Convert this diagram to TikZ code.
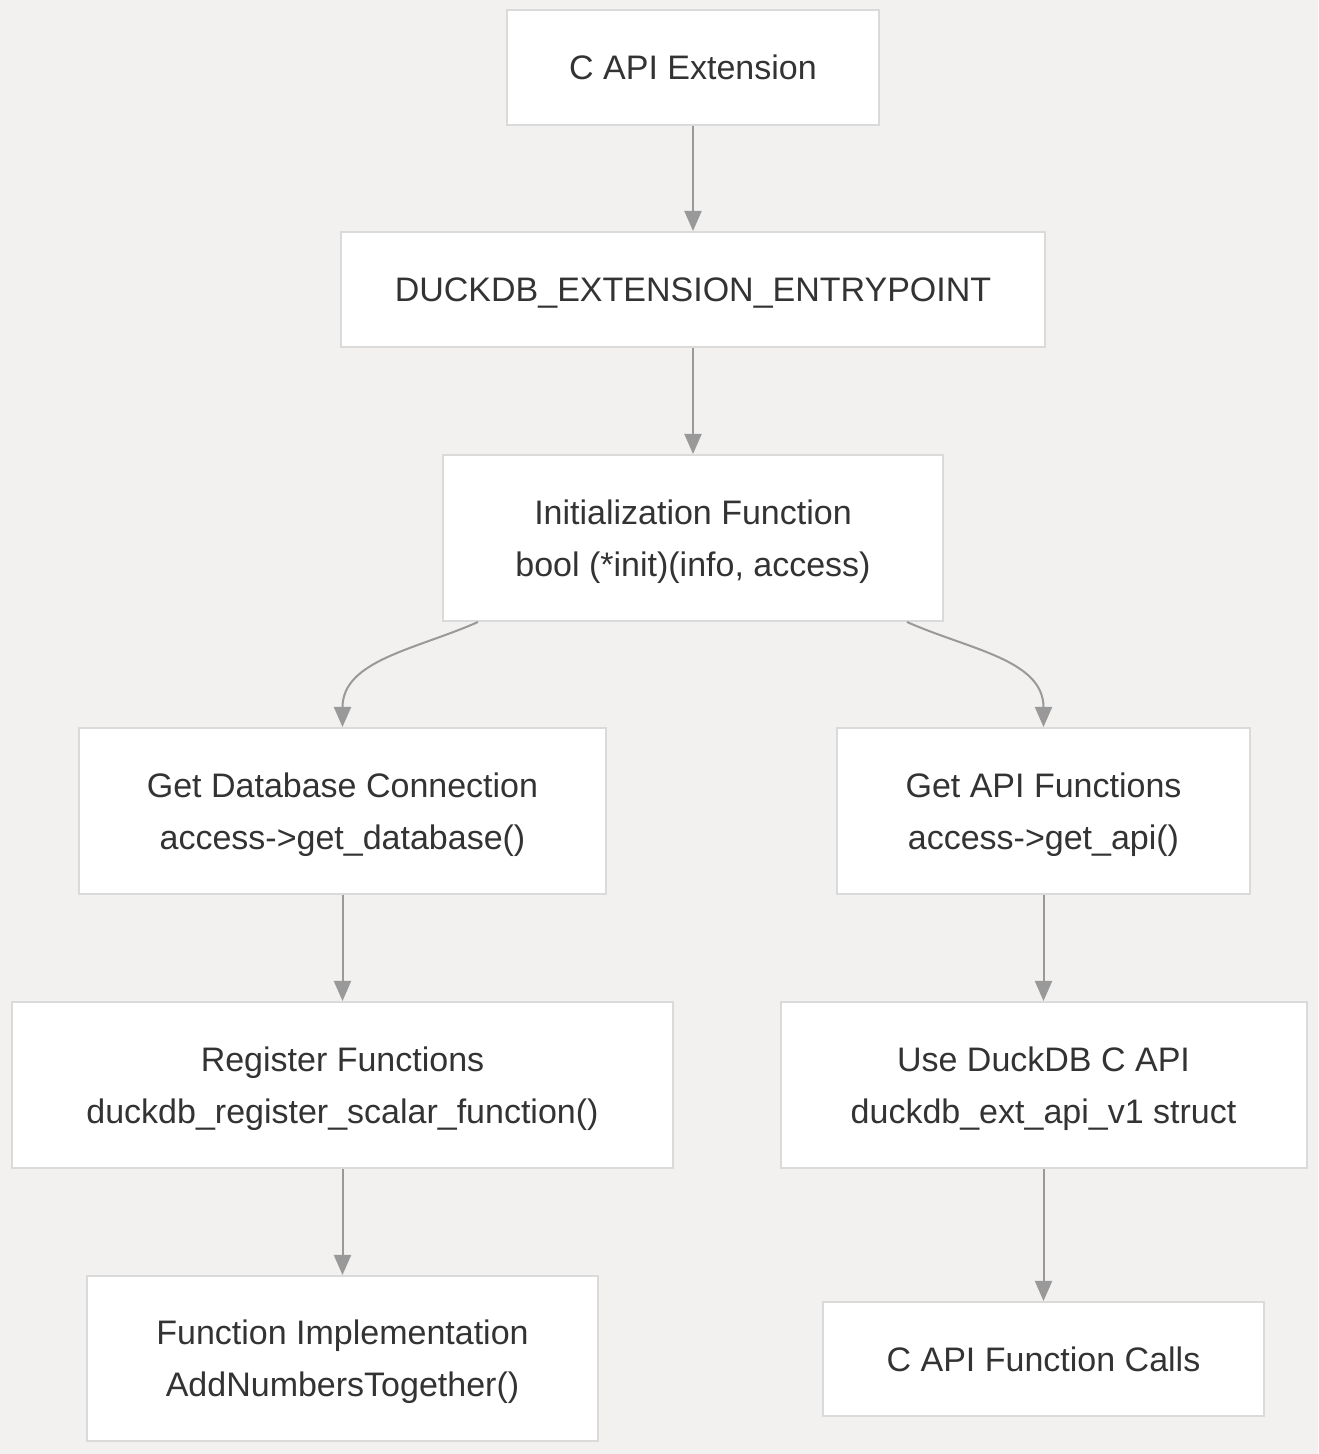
\documentclass[tikz,border=0pt]{standalone}
\usepackage{fontspec}
\setmainfont{Liberation Sans}
\usetikzlibrary{arrows.meta}

\definecolor{bgcol}{HTML}{F2F1F0}
\definecolor{boxline}{HTML}{DADADA}
\definecolor{arrowcol}{HTML}{999999}
\definecolor{textcol}{HTML}{333333}

\tikzset{
  box/.style={draw=boxline, line width=2pt, fill=white, text=textcol,
    align=center, font=\fontsize{34}{52}\selectfont, inner sep=0pt,
    text depth=0pt},
  flow/.style={draw=arrowcol, line width=2pt,
    -{Triangle[width=17pt,length=20pt]}, arrowcol}
}

\begin{document}
\begin{tikzpicture}[x=1pt,y=1pt]
  \fill[bgcol] (0,0) rectangle (1318,1454);

  \node[box, minimum width=372, minimum height=115] (ext) at (693,1386.5) {C API Extension};
  \node[box, minimum width=704, minimum height=115] (entry) at (693,1164.5) {DUCKDB\_EXTENSION\_ENTRYPOINT};
  \node[box, minimum width=500, minimum height=166] (init) at (693,916) {Initialization Function\\bool (*init)(info, access)};

  \node[box, minimum width=527, minimum height=166] (getdb) at (342.5,643) {Get Database Connection\\access->get\_database()};
  \node[box, minimum width=661, minimum height=166] (register) at (342.5,369) {Register Functions\\duckdb\_register\_scalar\_function()};
  \node[box, minimum width=511, minimum height=165] (impl) at (342.5,95.5) {Function Implementation\\AddNumbersTogether()};

  \node[box, minimum width=413, minimum height=166] (getapi) at (1043.5,643) {Get API Functions\\access->get\_api()};
  \node[box, minimum width=526, minimum height=166] (useapi) at (1043.5,369) {Use DuckDB C API\\duckdb\_ext\_api\_v1 struct};
  \node[box, minimum width=441, minimum height=114] (calls) at (1043.5,95) {C API Function Calls};

  \draw[flow] (ext) -- (entry);
  \draw[flow] (entry) -- (init);
  \draw[flow] ([xshift=-215pt]init.south) to[out=204,in=90] (getdb.north);
  \draw[flow] ([xshift=214pt]init.south) to[out=-24,in=90] (getapi.north);
  \draw[flow] (getdb) -- (register);
  \draw[flow] (register) -- (impl);
  \draw[flow] (getapi) -- (useapi);
  \draw[flow] (useapi) -- (calls);
\end{tikzpicture}
\end{document}
